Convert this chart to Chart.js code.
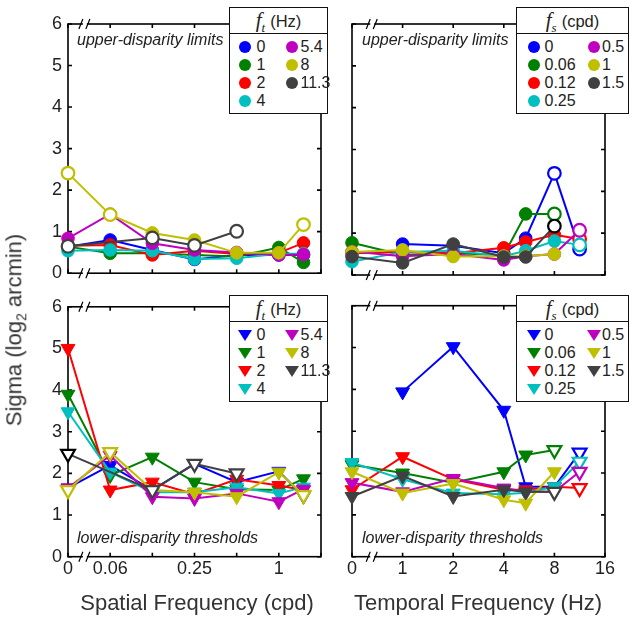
<!DOCTYPE html>
<html>
<head>
<meta charset="utf-8">
<script src="https://cdn.jsdelivr.net/npm/chart.js@4"></script>
<style>
  body { margin: 0; background: #fff; }
  #wrap { position: relative; width: 630px; height: 619px; overflow: hidden; font-family: "Liberation Sans", Arial, sans-serif; color: #222; }
  canvas { position: absolute; }
  .txt { position: absolute; white-space: nowrap; z-index: 2; }
  .note { font-style: italic; font-size: 16px; line-height: 18px; }
  .title { font-size: 22px; line-height: 26px; transform: translate(-50%, -50%); color: #333; }
  .legend { position: absolute; z-index: 3; background: #fff; border: 1.5px solid #111; box-sizing: border-box; font-size: 16px; }
  .legend .head { position: absolute; left: 0; right: 0; top: 0; height: 25px; border-bottom: 1.5px solid #111; text-align: center; line-height: 25px; font-size: 16.5px; }
  .legend .f { font-family: "Liberation Serif", serif; font-style: italic; font-size: 21px; }
  .legend .sub { font-family: "Liberation Serif", serif; font-style: italic; font-size: 13px; position: relative; top: 5px; margin-right: 5px; }
  .legend .item { position: absolute; line-height: 18px; transform: translateY(-50%); }
  .legend svg { position: absolute; }
</style>
</head>
<body>
<div id="wrap">
  <canvas id="upSF" width="340" height="290" style="left:0;top:0"></canvas>
  <canvas id="upTF" width="330" height="290" style="left:300px;top:0"></canvas>
  <canvas id="lowSF" width="340" height="329" style="left:0;top:290px"></canvas>
  <canvas id="lowTF" width="330" height="329" style="left:300px;top:290px"></canvas>

  <div class="txt note" style="left:77px;top:31px">upper-disparity limits</div>
  <div class="txt note" style="left:362px;top:31px">upper-disparity limits</div>
  <div class="txt note" style="left:77px;top:529px">lower-disparity thresholds</div>
  <div class="txt note" style="left:362px;top:529px">lower-disparity thresholds</div>

  <div class="txt title" style="left:197px;top:603px">Spatial Frequency (cpd)</div>
  <div class="txt title" style="left:478px;top:603px">Temporal Frequency (Hz)</div>
  <div class="txt title" style="left:18px;top:330px;transform:translate(-50%,-50%) rotate(-90deg)">Sigma (log<sub style="font-size:14px">2</sub> arcmin)</div>

  <div class="legend" id="legUpSF" style="left:229px;top:7px;width:99px;height:107px"></div>
  <div class="legend" id="legUpTF" style="left:516px;top:7px;width:113px;height:107px"></div>
  <div class="legend" id="legLowSF" style="left:229px;top:295px;width:99px;height:107px"></div>
  <div class="legend" id="legLowTF" style="left:516px;top:295px;width:113px;height:107px"></div>
</div>
<script>
// x values: spatial frequency (cpd) and temporal frequency (Hz)
const sfValues = [0, 0.0625, 0.125, 0.25, 0.5, 1, 1.5];
const tfValues = [0, 1, 2, 4, 5.4, 8, 11.3];

// tick labels (octave steps on the x axes)
const sfTickLabels = ['0', '0.06', '', '0.25', '', '1', ''];
const tfTickLabels = ['0', '1', '2', '4', '8', '16'];
const sigmaTicks = ['0', '1', '2', '3', '4', '5', '6'];

// legend entries
const tfLegend = ['0', '1', '2', '4', '5.4', '8', '11.3'];
const sfLegend = ['0', '0.06', '0.12', '0.25', '0.5', '1', '1.5'];
const seriesColors = ['#0000ff', '#008000', '#ff0000', '#00bfbf', '#bf00bf', '#bfbf00', '#404040'];

// upper-disparity limits vs spatial frequency, one row per f_t
const upperSF = [
  [0.64, 0.80, 0.56, 0.33, 0.44, 0.44, 0.44],
  [0.64, 0.48, 0.48, 0.44, 0.40, 0.62, 0.26],
  [0.66, 0.68, 0.44, 0.54, 0.46, 0.49, 0.73],
  [0.54, 0.56, 0.54, 0.34, 0.36, 0.47, 0.47],
  [0.84, 1.42, 0.72, 0.56, 0.50, 0.44, 0.45],
  [2.41, 1.41, 0.97, 0.80, 0.49, 0.49, 1.17],
  [0.65, null, 0.85, 0.67, 1.01, null, null]
];
// 0 = filled, 1 = open, 2 = open black
const upperSFOpen = [
  [0, 0, 0, 0, 0, 0, 0],
  [0, 0, 0, 0, 0, 0, 0],
  [0, 0, 0, 0, 0, 0, 0],
  [0, 0, 0, 0, 0, 0, 0],
  [0, 0, 0, 0, 0, 0, 0],
  [1, 1, 0, 0, 0, 0, 1],
  [1, 0, 1, 1, 1, 0, 0]
];

// upper-disparity limits vs temporal frequency, one row per f_s
const upperTF = [
  [null, 0.74, 0.70, 0.52, 0.88, 2.43, 0.62],
  [0.77, 0.48, 0.52, 0.48, 1.46, 1.46, null],
  [0.52, 0.55, 0.52, 0.65, 0.79, 0.96, 0.86],
  [0.32, 0.55, 0.58, 0.45, 0.58, 0.81, 0.72],
  [0.56, 0.45, 0.50, 0.36, 0.45, 0.50, 1.07],
  [0.55, 0.60, 0.44, 0.45, 0.45, 0.50, null],
  [0.44, 0.29, 0.74, 0.43, 0.43, 1.17, null]
];
const upperTFOpen = [
  [0, 0, 0, 0, 0, 1, 1],
  [0, 0, 0, 0, 0, 1, 0],
  [0, 0, 0, 0, 0, 0, 1],
  [0, 0, 0, 0, 0, 0, 1],
  [0, 0, 0, 0, 0, 0, 1],
  [0, 0, 0, 0, 0, 0, 0],
  [0, 0, 0, 0, 0, 2, 0]
];

// lower-disparity thresholds vs spatial frequency, one row per f_t
const lowerSF = [
  [1.65, 2.19, 1.60, 2.23, 1.79, 2.05, 1.45],
  [3.90, 1.95, 2.39, 1.79, 1.62, 1.60, 1.87],
  [5.00, 1.60, 1.79, 1.50, 1.86, 1.71, 1.60],
  [3.48, 2.03, 1.55, 1.55, 1.67, 1.52, 1.67],
  [1.65, 2.43, 1.44, 1.40, 1.52, 1.32, 1.62],
  [1.60, 2.51, 1.60, 1.55, 1.44, 2.03, 1.48],
  [2.47, null, 1.60, 2.23, 2.00, null, null]
];
const lowerSFOpen = [
  [0, 0, 0, 0, 0, 0, 0],
  [0, 0, 0, 0, 0, 0, 0],
  [0, 0, 0, 0, 0, 0, 0],
  [0, 0, 0, 0, 0, 0, 0],
  [0, 0, 0, 0, 0, 0, 0],
  [1, 1, 0, 0, 0, 0, 1],
  [2, 0, 1, 1, 1, 0, 0]
];

// lower-disparity thresholds vs temporal frequency, one row per f_s
const lowerTF = [
  [null, 3.94, 5.02, 3.50, 1.67, 1.67, 2.49],
  [2.20, 2.00, 1.77, 2.03, 2.43, 2.55, null],
  [1.60, 2.39, 1.85, 1.60, 1.60, 1.67, 1.64],
  [2.25, 1.85, 1.52, 1.49, 1.53, 1.67, 2.27],
  [1.77, 1.55, 1.87, 1.64, 1.55, 1.55, 2.03],
  [2.03, 1.52, 1.75, 1.36, 1.28, 2.03, null],
  [1.44, 1.93, 1.44, 1.60, 1.55, 1.55, null]
];
const lowerTFOpen = [
  [0, 0, 0, 0, 0, 0, 1],
  [0, 0, 0, 0, 0, 1, 0],
  [0, 0, 0, 0, 0, 0, 1],
  [0, 0, 0, 0, 0, 0, 1],
  [0, 0, 0, 0, 0, 0, 1],
  [0, 0, 0, 0, 0, 0, 0],
  [0, 0, 0, 0, 0, 1, 0]
];

// log2 axes with 0 placed one octave below the lowest frequency
const sfToX = (f) => f === 0 ? 0 : Math.log2(f / 0.03125);
const tfToX = (f) => f === 0 ? 0 : Math.log2(f) + 1;

const tickFont = { family: 'Liberation Sans', size: 18 };

// box, inward ticks and the // axis break
const framePlugin = {
  id: 'frame',
  beforeDatasetsDraw(chart, args, opts) {
    const { ctx, chartArea: a, scales: { x, y } } = chart;
    ctx.save();
    ctx.strokeStyle = '#000';
    ctx.lineWidth = 1.6;
    ctx.strokeRect(a.left, a.top, a.right - a.left, a.bottom - a.top);
    ctx.beginPath();
    x.ticks.forEach(t => {
      const px = x.getPixelForValue(t.value);
      ctx.moveTo(px, a.bottom); ctx.lineTo(px, a.bottom - 4);
      ctx.moveTo(px, a.top); ctx.lineTo(px, a.top + 4);
    });
    y.ticks.forEach(t => {
      const py = y.getPixelForValue(t.value);
      ctx.moveTo(a.left, py); ctx.lineTo(a.left + 4, py);
      ctx.moveTo(a.right, py); ctx.lineTo(a.right - 4, py);
    });
    ctx.stroke();
    const bx = x.getPixelForValue(opts.breakAt);
    [a.top, a.bottom].forEach(py => {
      ctx.fillStyle = '#fff';
      ctx.fillRect(bx - 2, py - 2, 4, 4);
      ctx.lineWidth = 1.2;
      ctx.beginPath();
      ctx.moveTo(bx - 6, py + 5); ctx.lineTo(bx - 2, py - 5);
      ctx.moveTo(bx + 1, py + 5); ctx.lineTo(bx + 5, py - 5);
      ctx.stroke();
    });
    ctx.restore();
  }
};

function buildPanel(id, xVals, toX, rows, marks, shape, xMax, xLabels, showY, box) {
  const datasets = rows.map((vals, i) => {
    const color = seriesColors[i];
    return {
      data: xVals.map((f, j) => ({ x: toX(f), y: vals[j] })),
      borderColor: color,
      borderWidth: 2,
      pointStyle: shape,
      pointRotation: shape === 'triangle' ? 180 : 0,
      pointRadius: shape === 'triangle' ? 8 : 6.3,
      pointBackgroundColor: marks[i].map(m => m ? '#fff' : color),
      pointBorderColor: marks[i].map(m => m === 2 ? '#000' : color),
      pointBorderWidth: marks[i].map(m => m ? 2.2 : 1),
      spanGaps: true,
      clip: false,
      order: -i
    };
  });

  return new Chart(document.getElementById(id), {
    type: 'line',
    data: { datasets },
    plugins: [framePlugin],
    options: {
      responsive: false,
      animation: false,
      events: [],
      layout: { padding: { top: box.top, right: box.right, left: 0, bottom: 0 } },
      plugins: { legend: { display: false }, tooltip: { enabled: false }, frame: { breakAt: 0.4 } },
      scales: {
        x: {
          type: 'linear', min: 0, max: xMax,
          grid: { display: false, drawTicks: false }, border: { display: false },
          ticks: {
            display: !!xLabels, stepSize: 1, autoSkip: false, maxRotation: 0,
            padding: 2, color: '#222', font: tickFont,
            callback: (v) => xLabels ? (xLabels[v] ?? '') : ''
          },
          afterFit: (s) => { s.height = box.xh; }
        },
        y: {
          min: 0, max: 6,
          grid: { display: false, drawTicks: false }, border: { display: false },
          ticks: {
            display: showY, stepSize: 1, padding: 6, color: '#222', font: tickFont,
            callback: (v) => sigmaTicks[v] ?? ''
          },
          afterFit: (s) => { s.width = box.yw; }
        }
      }
    }
  });
}

buildPanel('upSF', sfValues, sfToX, upperSF, upperSFOpen, 'circle', 6, null, true,
  { top: 24, right: 19, yw: 68, xh: 15 });
buildPanel('upTF', tfValues, tfToX, upperTF, upperTFOpen, 'circle', 5, null, false,
  { top: 24, right: 25, yw: 52, xh: 15 });
buildPanel('lowSF', sfValues, sfToX, lowerSF, lowerSFOpen, 'triangle', 6, sfTickLabels, true,
  { top: 15.7, right: 19, yw: 68, xh: 62.3 });
buildPanel('lowTF', tfValues, tfToX, lowerTF, lowerTFOpen, 'triangle', 5, tfTickLabels, false,
  { top: 15.7, right: 25, yw: 52, xh: 62.3 });

// legends as html boxes
const legendRows = [38.5, 56.8, 75, 93.3];

function buildLegend(id, sym, unit, labels, shape, cols) {
  const el = document.getElementById(id);
  el.innerHTML = '<div class="head"><span class="f">f</span><span class="sub">' + sym + '</span>(' + unit + ')</div>';
  labels.forEach((lab, i) => {
    const c = i < 4 ? 0 : 1;
    const r = i < 4 ? i : i - 4;
    const cy = legendRows[r];
    const mx = cols[c * 2];
    const svg = document.createElementNS('http://www.w3.org/2000/svg', 'svg');
    svg.setAttribute('width', 16);
    svg.setAttribute('height', 16);
    svg.style.left = (mx - 8) + 'px';
    svg.style.top = (cy - 8) + 'px';
    const shp = shape === 'circle'
      ? '<circle cx="8" cy="8" r="6" fill="' + seriesColors[i] + '"/>'
      : '<polygon points="1,3 15,3 8,14" fill="' + seriesColors[i] + '"/>';
    svg.innerHTML = shp;
    el.appendChild(svg);
    const t = document.createElement('div');
    t.className = 'item';
    t.style.left = cols[c * 2 + 1] + 'px';
    t.style.top = cy + 'px';
    t.textContent = lab;
    el.appendChild(t);
  });
}

buildLegend('legUpSF', 't', 'Hz', tfLegend, 'circle', [15.3, 26.5, 62, 70.5]);
buildLegend('legUpTF', 's', 'cpd', sfLegend, 'circle', [17, 27.5, 77.3, 85]);
buildLegend('legLowSF', 't', 'Hz', tfLegend, 'triangle', [15.3, 26.5, 62, 70.5]);
buildLegend('legLowTF', 's', 'cpd', sfLegend, 'triangle', [17, 27.5, 77.3, 85]);
</script>
</body>
</html>
